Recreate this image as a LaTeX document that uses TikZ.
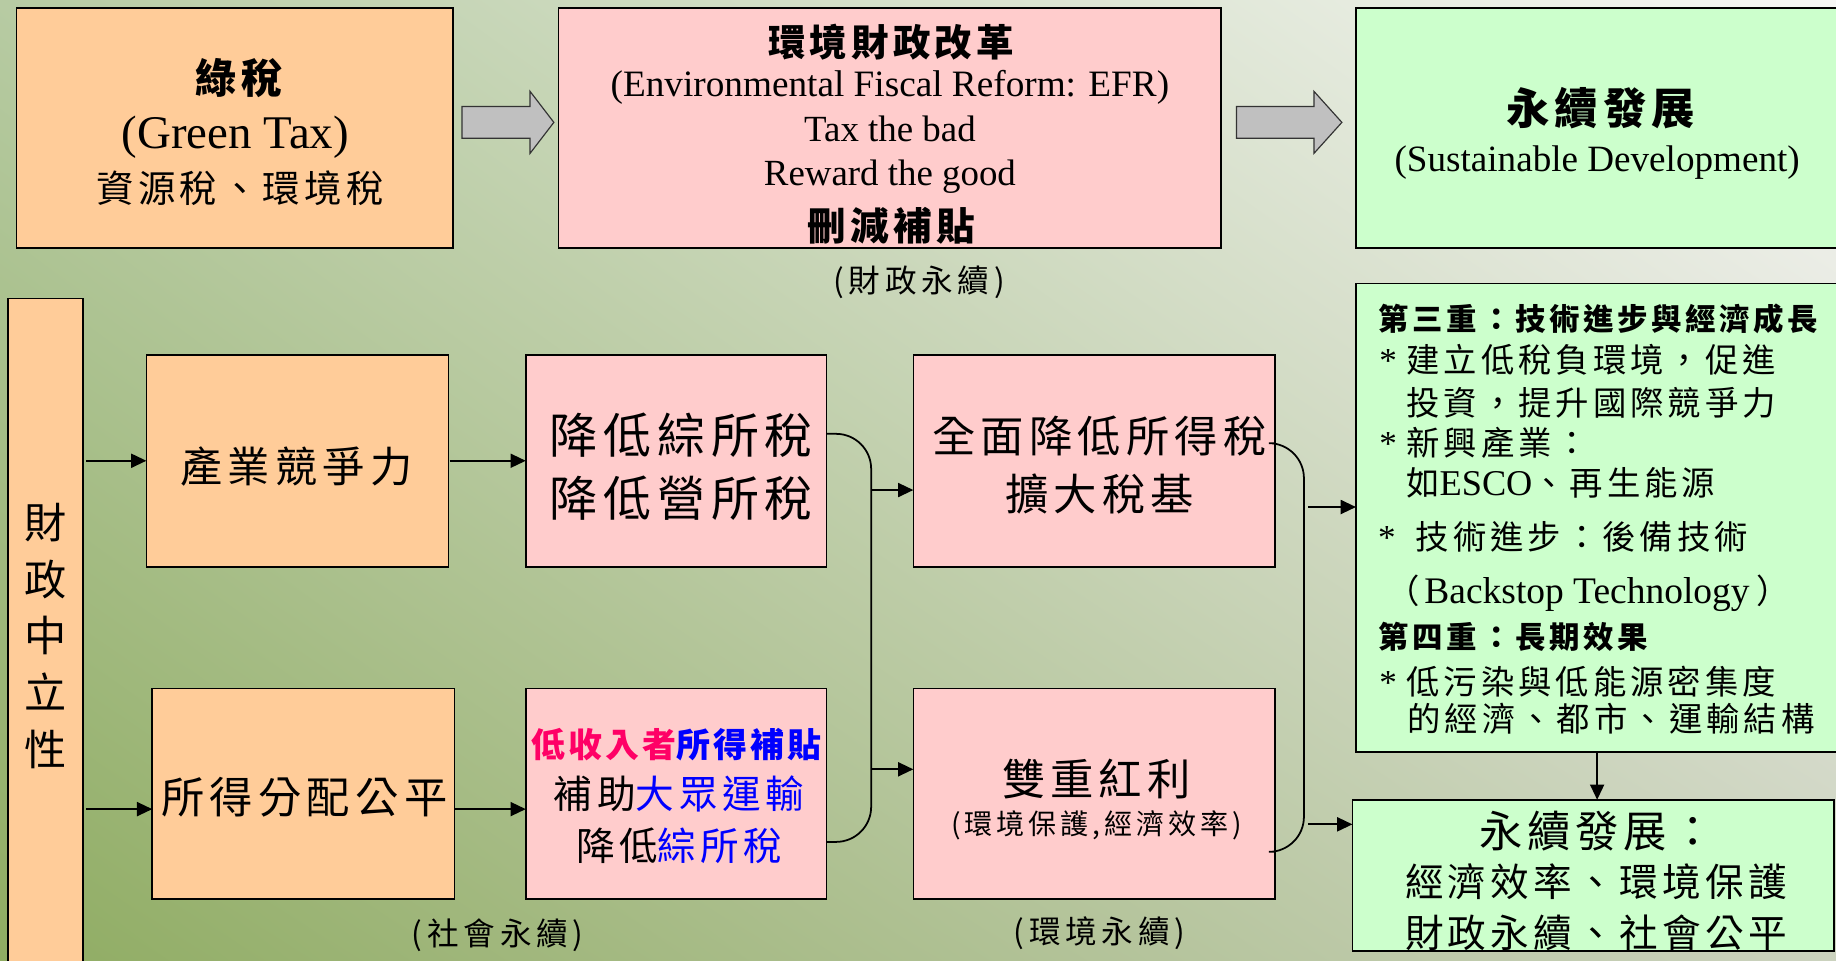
\documentclass[tikz,border=0pt]{standalone}
\usepackage{fontspec}
\setmainfont{Noto Sans CJK TC}
\newfontfamily\tnr{Liberation Serif}
\usetikzlibrary{shapes.arrows,arrows.meta,calc,shadings}
\definecolor{orangebox}{RGB}{255,204,153}
\definecolor{pinkbox}{RGB}{255,204,204}
\definecolor{greenbox}{RGB}{204,255,204}
\definecolor{arrowgray}{RGB}{192,192,192}
\definecolor{bgLL}{RGB}{143,172,98}
\definecolor{bgUR}{RGB}{247,247,245}
\definecolor{bgUL}{RGB}{183,203,163}
\definecolor{bgLR}{RGB}{203,210,190}
\definecolor{txtred}{RGB}{255,0,102}
\definecolor{txtblue}{RGB}{0,0,255}
\newcommand\fsz[2]{\fontsize{#1}{#2}\selectfont}
\newcommand\lsp[1]{\addfontfeature{LetterSpace=#1}}
\newcommand\bulstar[1]{\makebox[#1][l]{\tnr\fontsize{30}{30}\selectfont *}}
\begin{document}
\begin{tikzpicture}[x=1pt,y=-1pt,
  rbox/.style={draw=black, line width=1.4pt, inner sep=0pt, outer sep=0pt, anchor=north west},
  obox/.style={rbox, fill=orangebox},
  pbox/.style={rbox, fill=pinkbox},
  gbox/.style={rbox, fill=greenbox},
  blk/.style={single arrow, draw=black!80, line width=1pt, fill=arrowgray, inner xsep=0pt, inner ysep=13pt, outer sep=0pt, single arrow head extend=13pt, anchor=tail},
  conn/.style={line width=1.5pt, black},
  arr/.style={conn, -{Triangle[length=13pt,width=12pt]}},
  txt/.style={inner sep=0pt, outer sep=0pt, text=black, align=center},
  ltxt/.style={inner sep=0pt, outer sep=0pt, text=black, anchor=west},
]
\useasboundingbox (0,0) rectangle (1568,820);
\clip (0,0) rectangle (1568,820);
\shade[lower left=bgLL, upper right=bgUR, upper left=bgUL, lower right=bgLR] (0,0) rectangle (1568,820);

% boxes
\node[obox, minimum width=373pt, minimum height=205pt] (gt) at (14,7) {};
\node[pbox, minimum width=566pt, minimum height=205pt] (efr) at (477,7) {};
\node[gbox, minimum width=430pt, minimum height=205pt] (sd) at (1158,7) {};
\node[obox, minimum width=64pt, minimum height=580pt] (neu) at (7,255) {};
\node[obox, minimum width=258pt, minimum height=181pt] (ind) at (125,303) {};
\node[obox, minimum width=258pt, minimum height=180pt] (inc) at (130,588) {};
\node[pbox, minimum width=257pt, minimum height=181pt] (r1) at (449,303) {};
\node[pbox, minimum width=257pt, minimum height=180pt] (r2) at (449,588) {};
\node[pbox, minimum width=309pt, minimum height=181pt] (q1) at (780,303) {};
\node[pbox, minimum width=309pt, minimum height=180pt] (q2) at (780,588) {};
\node[gbox, minimum width=430pt, minimum height=400pt] (g1) at (1158,242) {};
\node[gbox, minimum width=411pt, minimum height=129pt] (g2) at (1155,683) {};

% block arrows
\node[blk, minimum height=78.5pt, single arrow tip angle=105] (a1) at (394.5,104.5) {};
\node[blk, minimum height=90pt, single arrow tip angle=96] (a2) at (1056,104.5) {};

% texts top row
\node[txt, font={\fsz{35}{35}\bfseries\lsp{11}}] (gt1) at (204,67) {綠稅};
\node[txt, anchor=base, font={\tnr\fsz{40}{40}}] (gt2) at (201,127) {(Green Tax)};
\node[txt, font={\fsz{32}{32}\lsp{11}}] (gt3) at (205,161) {資源稅、環境稅};
\node[txt, font={\fsz{32}{32}\bfseries\lsp{11}}] (efr1) at (761,35.6) {環境財政改革};
\node[txt, anchor=base, font={\tnr\fsz{31.8}{31.8}}] (efr2) at (760,82.6) {(Environmental Fiscal Reform: EFR)};
\node[txt, anchor=base, font={\tnr\fsz{31.5}{31.5}}] (efr3) at (760,121) {Tax the bad};
\node[txt, anchor=base, font={\tnr\fsz{31.5}{31.5}}] (efr4) at (760,158) {Reward the good};
\node[txt, font={\fsz{33}{33}\bfseries\lsp{11}}] (efr5) at (761,193) {刪減補貼};
\node[txt, font={\fsz{27}{27}\lsp{15}}] (efrl) at (785,241) {(財政永續)};
\node[txt, font={\fsz{37}{37}\bfseries\lsp{11}}] (sd1) at (1367,92.6) {永續發展};
\node[txt, anchor=base, font={\tnr\fsz{31.7}{31.7}}] (sd2) at (1364,146.7) {(Sustainable Development)};

% left column
\node[txt, font={\fsz{36}{48.5}}] (neut) at (39,543) {財\\政\\中\\立\\性};
\node[txt, font={\fsz{36}{36}\lsp{12.5}}] (indt) at (253,398) {產業競爭力};
\node[txt, font={\fsz{37}{37}\lsp{12}}] (inct) at (260,681) {所得分配公平};

% middle column
\node[txt, font={\fsz{41}{53.5}\lsp{12}}] (r1t) at (582,398.3) {降低綜所稅\\降低營所稅};
\node[txt, font={\fsz{29}{29}\bfseries\lsp{9}}] (r2a) at (578,636) {{\color{txtred}低收入者}{\color{txtblue}所得補貼}};
\node[txt, font={\fsz{33}{33}\lsp{12}}] (r2b) at (580,678) {補助{\color{txtblue}大眾運輸}};
\node[txt, font={\fsz{33}{33}\lsp{11}}] (r2c) at (580,722.5) {降低{\color{txtblue}綜所稅}};
\node[txt, font={\fsz{27}{27}\lsp{15}}] (socl) at (425,798.5) {(社會永續)};

\node[txt, font={\fsz{37}{50}\lsp{12}}] (q1t) at (939,397) {全面降低所得稅\\擴大稅基};
\node[txt, font={\fsz{37}{37}\lsp{11}}] (q2a) at (936.5,665) {雙重紅利};
\node[txt, font={\fsz{24}{24}\lsp{14}}] (q2b) at (936.5,705) {(環境保護,經濟效率)};
\node[txt, font={\fsz{27}{27}\lsp{15}}] (envl) at (939,797) {(環境永續)};

% right column texts
\node[ltxt, font={\fsz{26}{26}\bfseries\lsp{12}}] (g1a) at (1177.5,272.6) {第三重：技術進步與經濟成長};
\node[ltxt, font={\fsz{28.5}{28.5}\lsp{12}}] (g1b) at (1178,307.5) {\bulstar{23pt}建立低稅負環境，促進};
\node[ltxt, font={\fsz{28.5}{28.5}\lsp{12}}] (g1c) at (1201,344) {投資，提升國際競爭力};
\node[ltxt, font={\fsz{28.5}{28.5}\lsp{12}}] (g1d) at (1178,378.5) {\bulstar{23pt}新興產業：};
\node[ltxt, font={\fsz{28.5}{28.5}\lsp{12}}] (g1e) at (1201,412.7) {如{\tnr\fsz{31}{31}ESCO}、再生能源};
\node[ltxt, font={\fsz{28.5}{28.5}\lsp{12}}] (g1f) at (1177,458.5) {\bulstar{32pt}技術進步：後備技術};
\node[ltxt, font={\fsz{28.5}{28.5}}] (g1g) at (1184,506.6) {（\hspace{4pt}{\tnr\fsz{32}{32}Backstop Technology}\hspace{6pt}）};
\node[ltxt, font={\fsz{26}{26}\bfseries\lsp{12}}] (g1h) at (1177.5,544) {第四重：長期效果};
\node[ltxt, font={\fsz{28.5}{28.5}\lsp{12}}] (g1i) at (1178,582) {\bulstar{23pt}低污染與低能源密集度};
\node[ltxt, font={\fsz{28.5}{28.5}\lsp{12}}] (g1j) at (1202,613.5) {的經濟、都市、運輸結構};

\node[txt, font={\fsz{37}{37}\lsp{11}}] (g2a) at (1364,710) {永續發展：};
\node[txt, font={\fsz{33}{33}\lsp{11}}] (g2b) at (1363,753) {經濟效率、環境保護};
\node[txt, font={\fsz{33}{33}\lsp{11}}] (g2c) at (1363,797) {財政永續、社會公平};

% connectors
\coordinate (b1) at (744,550);
\coordinate (b2) at (1113.6,550);
\coordinate (nE) at ([xshift=2.5pt]neu.east);
\coordinate (incA) at ([yshift=-13pt]inc.west);
\coordinate (incB) at ([yshift=-13pt,xshift=1pt]inc.east);
\draw[arr] (nE |- ind.west) -- (ind.west);
\draw[arr] (nE |- incA) -- (incA);
\draw[arr] ([xshift=1pt]ind.east) -- (r1.west);
\draw[arr] (incB) -- (incB -| r2.west);
\draw[conn, rounded corners=30pt] ([yshift=23pt]r1.east) -| (b1) |- ([yshift=-41pt]r2.east);
\coordinate (q1in) at ([yshift=-25pt]q1.west);
\coordinate (q2in) at ([yshift=21pt]q2.west);
\draw[arr] (b1 |- q1in) -- (q1in);
\draw[arr] (b1 |- q2in) -- (q2in);
\draw[conn, rounded corners=30pt] ([yshift=15pt]q1.east) -| (b2) |- ([yshift=-49.5pt]q2.east);
\coordinate (b2s) at ([xshift=3.5pt]b2);
\coordinate (g1in) at ([yshift=9pt]g1.west);
\coordinate (g2in) at ([yshift=43.5pt]g2.west);
\draw[arr] (b2s |- g1in) -- (g1in);
\draw[arr] (b2s |- g2in) -- (g2in);
\coordinate (g2top) at ([xshift=3.5pt]g2.north);
\draw[arr] (g1.south -| g2top) -- (g2top);
\end{tikzpicture}
\end{document}
